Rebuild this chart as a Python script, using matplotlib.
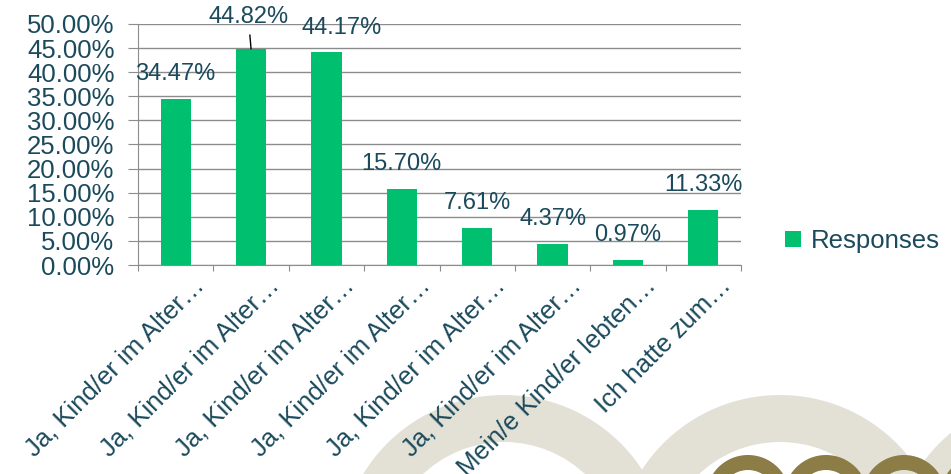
import matplotlib
matplotlib.use('Agg')

import matplotlib.pyplot as plt
import matplotlib.transforms as mtransforms
from matplotlib.patches import Wedge

plt.rcParams['font.family'] = ['Liberation Sans', 'DejaVu Sans']

# Daten
categories = ["Ja, Kind/er im Alter…", "Ja, Kind/er im Alter…", "Ja, Kind/er im Alter…",
              "Ja, Kind/er im Alter…", "Ja, Kind/er im Alter…", "Ja, Kind/er im Alter…",
              "Mein/e Kind/er lebten…", "Ich hatte zum…"]
responses = [34.47, 44.82, 44.17, 15.70, 7.61, 4.37, 0.97, 11.33]
yticks = [0, 5, 10, 15, 20, 25, 30, 35, 40, 45, 50]

text_col = '#1a4a5c'
bar_col = '#00bf6f'
grid_col = '#8c8c8c'

fig = plt.figure(figsize=(9.51, 4.74), dpi=100)

# Hintergrund-Ringe (Folienlayout), in Pixeln von oben links
H = 474
def ring(cx, cy, r_out, r_in, color):
    w = Wedge((cx / 100, (H - cy) / 100), r_out / 100, 0, 360, width=(r_out - r_in) / 100,
              transform=fig.dpi_scale_trans, facecolor=color, edgecolor='none', zorder=-5)
    fig.patches.append(w)

for cx in [504, 780, 1056]:
    ring(cx, 560, 165, 118, '#e3e0d5')
for cx in [748, 826, 904, 982]:
    ring(cx, 497, 42, 27, '#8b7d45')

ax = fig.add_axes([0.1451, 0.4409, 0.6341, 0.5085])
ax.set_zorder(2)
ax.patch.set_alpha(0)

x = list(range(len(categories)))
ax.bar(x, responses, width=0.4, color=bar_col, zorder=3)

ax.set_xlim(-0.5, len(categories) - 0.5)
ax.set_ylim(0, 50)
ax.set_yticks(yticks)
ax.set_yticklabels([f"{v:.2f}%" for v in yticks], fontsize=18.5, color=text_col)
ax.yaxis.grid(True, color=grid_col, linewidth=1, zorder=0)
ax.tick_params(axis='y', length=7, color=grid_col, pad=10)

# Striche an den Kategoriegrenzen, Beschriftung in der Mitte
ax.set_xticks([i - 0.5 for i in range(len(categories) + 1)])
ax.set_xticklabels([])
ax.set_xticks(x, minor=True)
ax.set_xticklabels(categories, minor=True, rotation=45, ha='right',
                   rotation_mode='anchor', fontsize=18.5, color=text_col)
ax.tick_params(axis='x', which='major', length=4.5, color=grid_col)
ax.tick_params(axis='x', which='minor', length=0, pad=6)
for lbl in ax.get_xticklabels(minor=True):
    lbl.set_transform(lbl.get_transform() +
                      mtransforms.ScaledTranslation(0.16, 0.0, fig.dpi_scale_trans))

for s in ['top', 'right']:
    ax.spines[s].set_visible(False)
for s in ['left', 'bottom']:
    ax.spines[s].set_color(grid_col)

# Datenbeschriftungen (Excel hat zwei Beschriftungen verschoben)
label_shift = {1: (-2, 23), 2: (11, 17.5)}
for i, v in enumerate(responses):
    dx, dy = label_shift.get(i, (0, 18))
    props = None
    if i == 1:
        props = dict(arrowstyle='-', color='black', lw=1, shrinkA=3, shrinkB=0)
    ax.annotate(f"{v:.2f}%", xy=(i, v), xytext=(dx, dy), textcoords='offset points',
                ha='center', va='center', fontsize=17, color=text_col, arrowprops=props)

ax.legend(['Responses'], loc='center left', bbox_to_anchor=(1.035, 0.1), frameon=False,
          fontsize=18.5, labelcolor=text_col, handlelength=0.6, handleheight=0.6,
          handletextpad=0.4)

fig.savefig('out.png', dpi=100)
